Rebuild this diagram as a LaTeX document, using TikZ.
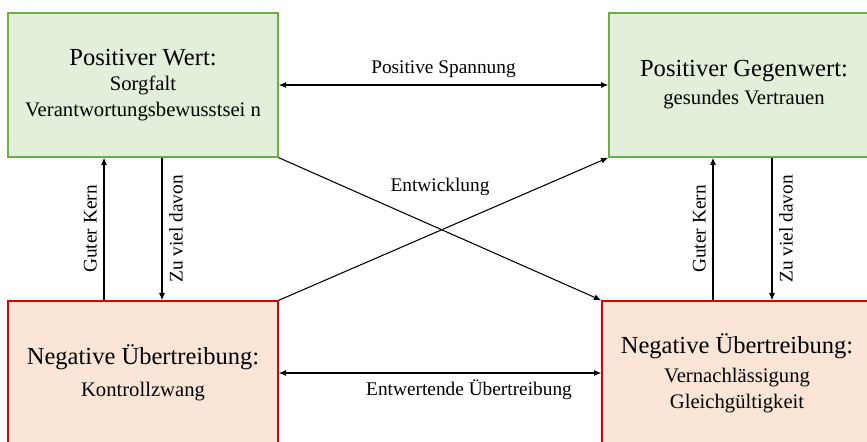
\documentclass[tikz,border=0pt]{standalone}
\usepackage{fontspec}
\setmainfont{Liberation Serif}
\usepackage{tikz}
\usetikzlibrary{positioning, calc, arrows.meta}

\definecolor{gruenrand}{HTML}{70AD47}
\definecolor{gruenfill}{HTML}{E2EFDA}
\definecolor{rotrand}{HTML}{E00000}
\definecolor{rotfill}{HTML}{FBE5D6}
\newcommand{\kopf}{\fontsize{18.4}{22}\selectfont}
\newcommand{\unter}{\fontsize{15.5}{19}\selectfont}

\begin{document}
\begin{tikzpicture}[
    x=0.75pt, y=0.75pt,
    >={Latex[length=5.5pt,width=4.5pt]},
    on grid,
    wert/.style={draw=gruenrand, fill=gruenfill, line width=1pt, font=\unter,
        minimum width=202.5pt, minimum height=108pt, align=center, inner sep=0pt},
    ueber/.style={wert, draw=rotrand, fill=rotfill},
    lbl/.style={font=\fontsize{14.5}{17}\selectfont, inner sep=5pt},
    pfeil/.style={line width=0.8pt}
]
\useasboundingbox (0,0) rectangle (867,442);
\clip (0,0) rectangle (867,442);

% Werte und Uebertreibungen
\node[wert] (tl) at (143,357) {{\kopf Positiver Wert:}\\ Sorgfalt\\ Verantwortungsbewusstsei n};
\node[wert, right=450.75pt of tl] (tr) {{\kopf Positiver Gegenwert:}\\[2pt] gesundes Vertrauen};
\node[ueber, below=216pt of tl] (bl) {{\kopf Negative Übertreibung:}\\[5pt] Kontrollzwang};
\node[ueber, right=445.5pt of bl] (br) {{\kopf Negative Übertreibung:}\\[3pt] Vernachlässigung\\ Gleichgültigkeit};

% Spannungen
\draw[pfeil, <->] (tl) -- node[lbl, above] {Positive Spannung} (tr);
\draw[pfeil, <->] (bl) -- node[lbl, below, pos=0.59] {Entwertende Übertreibung} (br);

% Entwicklung
\draw[pfeil, ->] (tl.south east) -- (br.north west);
\draw[pfeil, ->] (bl.north east) -- (tr.south west);
\node[lbl] (entw) at (440,255) {Entwicklung};

% links
\draw[pfeil, ->] ($(bl.north)+(-39,0)$) -- node[lbl, rotate=90, anchor=south] {Guter Kern} ($(tl.south)+(-39,0)$);
\draw[pfeil, ->] ($(tl.south)+(19,0)$) -- node[lbl, rotate=90, anchor=north] {Zu viel davon} ($(bl.north)+(19,0)$);

% rechts
\coordinate (gk) at ($(tr.south)+(-31,0)$);
\coordinate (zv) at ($(tr.south)+(28,0)$);
\draw[pfeil, ->] (gk |- br.north) -- node[lbl, rotate=90, anchor=south] {Guter Kern} (gk);
\draw[pfeil, ->] (zv) -- node[lbl, rotate=90, anchor=north] {Zu viel davon} (zv |- br.north);

\end{tikzpicture}
\end{document}
